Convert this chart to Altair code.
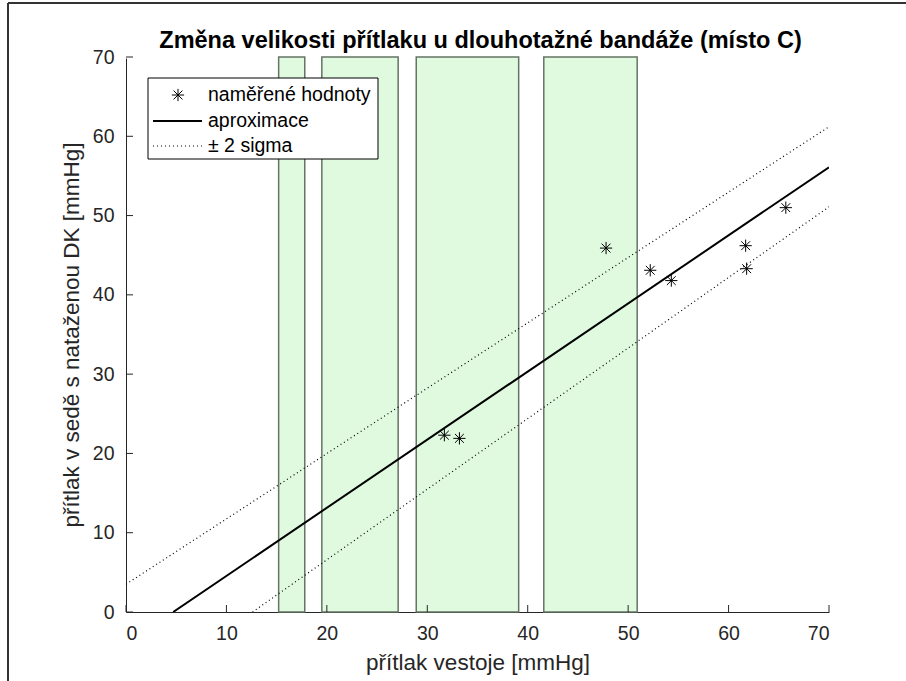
import altair as alt
import pandas as pd

# ---- data ----
meas_x = [31.7, 33.2, 47.8, 52.2, 54.3, 61.7, 61.8, 65.7]
meas_y = [22.3, 21.9, 45.9, 43.1, 41.8, 46.2, 43.3, 51.0]

fit_x = [4.7, 70.0]
fit_y = [0.0, 56.1]

upper_x = [0.0, 70.0]
upper_y = [3.5, 61.2]

lower_x = [12.6, 70.0]
lower_y = [0.0, 51.1]

band_start = [15.2, 19.5, 28.9, 41.6]
band_end = [17.8, 27.1, 39.1, 50.9]
band_bottom = [0, 0, 0, 0]
band_top = [70, 70, 70, 70]

x_ticks = [0, 10, 20, 30, 40, 50, 60, 70]
y_ticks = [0, 10, 20, 30, 40, 50, 60, 70]

title_text = "Změna velikosti přítlaku u dlouhotažné bandáže (místo C)"
x_title = "přítlak vestoje [mmHg]"
y_title = "přítlak v sedě s nataženou DK [mmHg]"
legend_labels = ["naměřené hodnoty", "aproximace", "± 2 sigma"]

# ---- layout ----
W, H = 703, 555
FONT = "Liberation Sans, Arial, Helvetica, sans-serif"
AX = "#262626"
STAR = "M-1,0L1,0M0,-1L0,1M-0.72,-0.72L0.72,0.72M-0.72,0.72L0.72,-0.72"

xs = alt.Scale(domain=[0, 70], nice=False, zero=False)
ys = alt.Scale(domain=[0, 70], nice=False, zero=False)

x_axis = alt.Axis(values=x_ticks, title=x_title, ticks=False, grid=False,
                  domainColor=AX, labelColor=AX, titleColor=AX,
                  labelFont=FONT, titleFont=FONT, labelFontSize=19.5,
                  titleFontSize=22.5, titleFontWeight="normal",
                  labelPadding=12, titlePadding=9)
y_axis = alt.Axis(values=y_ticks, title=y_title, ticks=False, grid=False,
                  domainColor=AX, labelColor=AX, titleColor=AX,
                  labelFont=FONT, titleFont=FONT, labelFontSize=19.5,
                  titleFontSize=22.5, titleFontWeight="normal",
                  labelPadding=12, titlePadding=9)

one = pd.DataFrame({"a": [0]})

# white covers for the view outline (top and right)
cover_top = alt.Chart(one).mark_rule(color="white", strokeWidth=3).encode(
    x=alt.value(0), x2=alt.value(W + 2), y=alt.value(0))
cover_right = alt.Chart(one).mark_rule(color="white", strokeWidth=3).encode(
    x=alt.value(W), y=alt.value(-2), y2=alt.value(H - 1))

bands_df = pd.DataFrame({"x0": band_start, "x1": band_end,
                         "y0": band_bottom, "y1": band_top})
bands = alt.Chart(bands_df).mark_rect(
    fill="#dffadf", stroke="#667466", strokeWidth=1.5
).encode(
    x=alt.X("x0:Q", scale=xs, axis=x_axis),
    x2="x1:Q",
    y=alt.Y("y0:Q", scale=ys, axis=y_axis),
    y2="y1:Q",
)

def line_layer(xv, yv, dash=None, width=2.0):
    df = pd.DataFrame({"x": xv, "y": yv})
    kw = dict(color="black", strokeWidth=width, clip=True)
    if dash is not None:
        kw["strokeDash"] = dash
    return alt.Chart(df).mark_line(**kw).encode(
        x=alt.X("x:Q", scale=xs, axis=x_axis), y=alt.Y("y:Q", scale=ys, axis=y_axis))

fit = line_layer(fit_x, fit_y, width=2.0)
upper = line_layer(upper_x, upper_y, dash=[1, 3], width=1.2)
lower = line_layer(lower_x, lower_y, dash=[1, 3], width=1.2)

pts_df = pd.DataFrame({"x": meas_x, "y": meas_y})
points = alt.Chart(pts_df).mark_point(
    shape=STAR, size=150, filled=False, stroke="black", strokeWidth=1.0, opacity=1
).encode(x=alt.X("x:Q", scale=xs, axis=x_axis), y=alt.Y("y:Q", scale=ys, axis=y_axis))

# inward ticks
xt = alt.Chart(pd.DataFrame({"t": x_ticks})).mark_rule(color=AX, strokeWidth=1).encode(
    x=alt.X("t:Q", scale=xs, axis=x_axis), y=alt.value(H), y2=alt.value(H - 7))
yt = alt.Chart(pd.DataFrame({"t": y_ticks})).mark_rule(color=AX, strokeWidth=1).encode(
    y=alt.Y("t:Q", scale=ys, axis=y_axis), x=alt.value(0), x2=alt.value(7))

# title as text mark
title = alt.Chart(one).mark_text(
    text=title_text, align="center", baseline="middle", font=FONT,
    fontSize=23.5, fontWeight="bold", color="black"
).encode(x=alt.value(W / 2 + 3), y=alt.value(-16))

# legend (manual)
leg_box = alt.Chart(one).mark_rect(fill="white", stroke="black", strokeWidth=1).encode(
    x=alt.value(22), x2=alt.value(252), y=alt.value(21), y2=alt.value(102))
leg_star = alt.Chart(one).mark_point(
    shape=STAR, size=150, filled=False, stroke="black", strokeWidth=1.0, opacity=1
).encode(x=alt.value(52), y=alt.value(38))
leg_line = alt.Chart(one).mark_rule(color="black", strokeWidth=2).encode(
    x=alt.value(27), x2=alt.value(76), y=alt.value(64))
leg_dot = alt.Chart(one).mark_rule(color="black", strokeWidth=1.2, strokeDash=[1, 3]).encode(
    x=alt.value(27), x2=alt.value(76), y=alt.value(89))
leg_texts = []
for lab, yy in zip(legend_labels, [38, 64, 89]):
    leg_texts.append(alt.Chart(one).mark_text(
        text=lab, align="left", baseline="middle", font=FONT, fontSize=19.5, color="black"
    ).encode(x=alt.value(82), y=alt.value(yy)))

# screenshot frame (top and left edges)
frame_top = alt.Chart(one).mark_rule(color="#333333", strokeWidth=2).encode(
    x=alt.value(8 - 126), x2=alt.value(906 - 126), y=alt.value(3 - 57))
frame_left = alt.Chart(one).mark_rule(color="#333333", strokeWidth=2).encode(
    x=alt.value(8 - 126), y=alt.value(3 - 57), y2=alt.value(681 - 57))

chart = alt.layer(
    cover_top, cover_right,
    bands, upper, lower, fit, points, xt, yt,
    leg_box, leg_star, leg_line, leg_dot, *leg_texts,
    title, frame_top, frame_left,
).properties(
    width=W, height=H,
    background="white",
    autosize=alt.AutoSizeParams(type="none"),
    padding={"left": 126, "top": 57, "right": 77, "bottom": 69},
).configure_view(
    strokeWidth=0, stroke="transparent"
).configure_axis(grid=False)

chart.save("out.html", embed_options={"renderer": "svg", "actions": False})
